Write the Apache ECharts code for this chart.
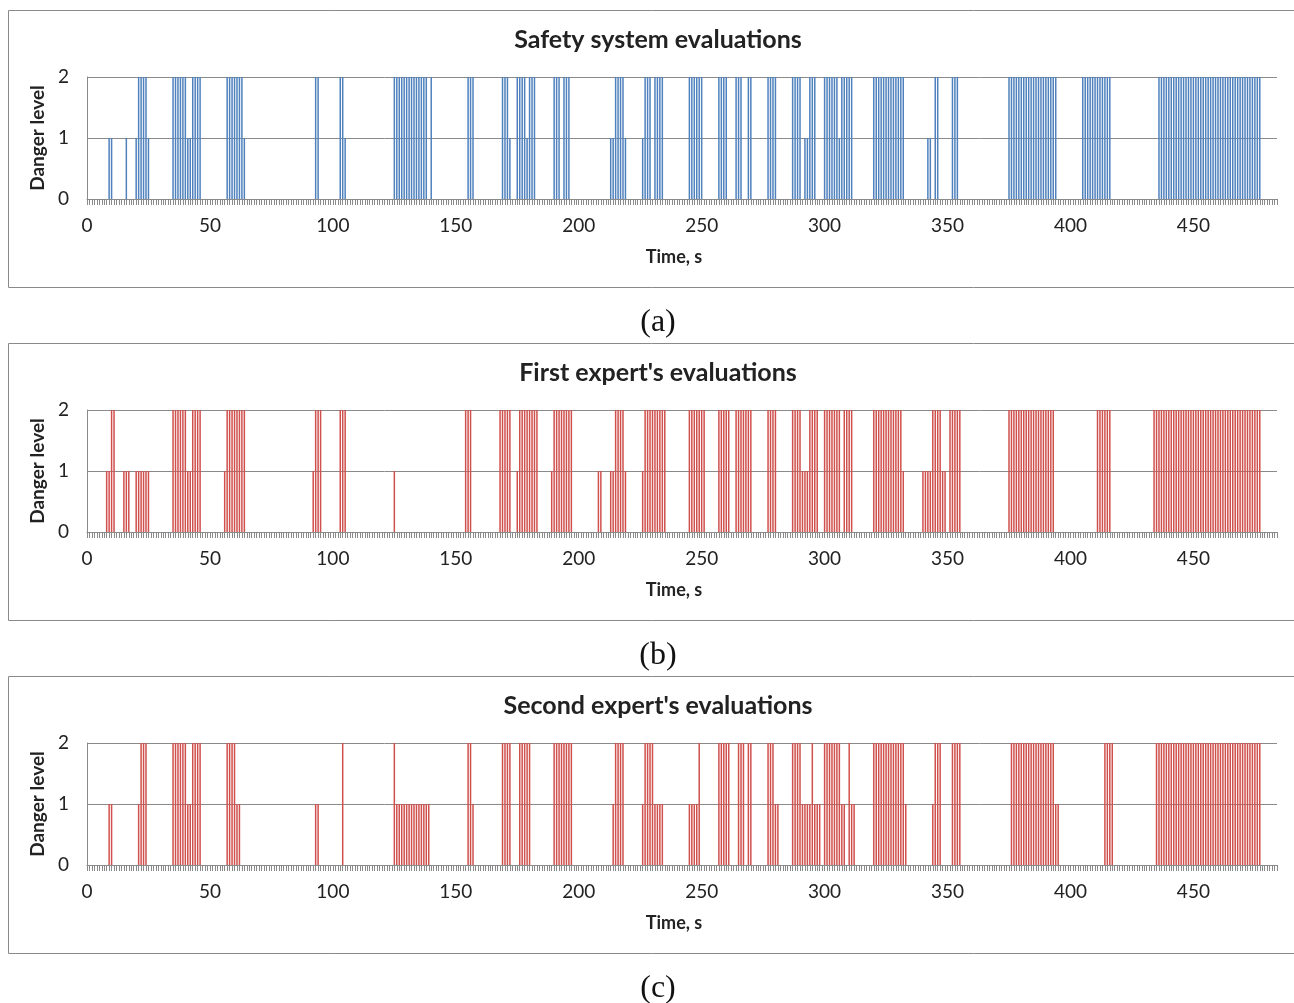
<!DOCTYPE html>
<html>
<head>
<meta charset="utf-8">
<script src="https://cdn.jsdelivr.net/npm/echarts@6/dist/echarts.min.js"></script>
<style>
html,body{margin:0;padding:0;background:#fff;}
#chart{width:1294px;height:1003px;}
</style>
</head>
<body>
<div id="chart"></div>
<script>
// Time axis: seconds 0..484
const timeMax = 484;
const xTickLabels = [0, 50, 100, 150, 200, 250, 300, 350, 400, 450];
const yTickLabels = [0, 1, 2];

const panelTitles = ["Safety system evaluations", "First expert's evaluations", "Second expert's evaluations"];
const panelCaptions = ["(a)", "(b)", "(c)"];

// Runs of consecutive seconds with the same danger level: [startSecond, endSecond, level]
const safetyRuns = [
  [9,10,1],[16,16,1],[20,20,1],[21,24,2],[25,25,1],[35,40,2],[41,42,1],[43,46,2],[57,63,2],[64,64,1],
  [93,94,2],[103,104,2],[105,105,1],
  [125,138,2],[140,140,2],[155,157,2],[169,171,2],[172,172,1],[175,178,2],[179,179,1],[180,182,2],
  [190,192,2],[194,196,2],[213,214,1],[215,218,2],[219,219,1],[226,226,1],[227,229,2],[231,234,2],
  [245,250,2],[257,260,2],[264,266,2],[269,270,2],[277,280,2],[287,290,2],[292,293,1],[294,296,2],
  [300,305,2],[306,306,1],[307,311,2],[320,332,2],[342,343,1],[345,346,2],[352,354,2],
  [375,394,2],[405,416,2],[436,477,2]
];
const expert1Runs = [
  [8,9,1],[10,11,2],[15,17,1],[20,25,1],[35,40,2],[41,42,1],[43,46,2],[56,56,1],[57,64,2],
  [92,92,1],[93,95,2],[103,105,2],
  [125,125,1],[154,156,2],[168,172,2],[175,175,1],[176,183,2],[189,189,1],[190,197,2],[208,209,1],
  [213,214,1],[215,218,2],[219,219,1],[226,226,1],[227,235,2],
  [245,251,2],[257,261,2],[264,270,2],[277,280,2],[287,290,2],[291,293,1],[294,297,2],[300,306,2],
  [308,311,2],[320,331,2],[332,332,1],[340,343,1],[344,347,2],[348,349,1],[351,355,2],
  [375,393,2],[411,416,2],[434,477,2]
];
const expert2Runs = [
  [9,10,1],[21,21,1],[22,24,2],[35,40,2],[41,42,1],[43,46,2],[57,60,2],[61,62,1],[93,94,1],[104,104,2],
  [125,125,2],[126,139,1],[155,156,2],[157,157,1],[169,172,2],[176,180,2],[190,197,2],[214,214,1],
  [215,218,2],[226,226,1],[227,230,2],[231,234,1],
  [245,248,1],[249,249,2],[257,261,2],[265,267,2],[269,270,2],[277,279,2],[280,281,1],[287,290,2],
  [291,294,1],[295,295,2],[296,298,1],[300,306,2],[307,308,1],[310,310,2],[311,312,1],[320,332,2],
  [333,333,1],[344,344,1],[345,347,2],[352,355,2],
  [376,393,2],[394,395,1],[414,417,2],[435,477,2]
];

const seriesColors = ['#4F81BD', '#D0504D', '#D0504D'];

const categories = [];
for (let t = 0; t <= timeMax; t++) categories.push(String(t));

function expand(runs) {
  const v = new Array(categories.length).fill(0);
  runs.forEach(function (r) { for (let t = r[0]; t <= r[1]; t++) v[t] = r[2]; });
  return v;
}
const panelData = [expand(safetyRuns), expand(expert1Runs), expand(expert2Runs)];

const offsets = [0, 333, 666];
const gray = '#8a8a8a';
const font = 'Lato, "Open Sans", sans-serif';

const grids = [], xAxes = [], yAxes = [], series = [], titles = [], graphics = [];
offsets.forEach(function (off, i) {
  grids.push({ left: 87, right: 17, top: 77 + off, height: 122 });
  xAxes.push({
    type: 'category', gridIndex: i, data: categories, boundaryGap: false,
    axisLine: { show: true, lineStyle: { color: gray, width: 1 } },
    axisTick: { show: true, interval: 0, length: 6, lineStyle: { color: gray, width: 1 } },
    axisLabel: {
      interval: function (idx) { return xTickLabels.indexOf(idx) >= 0; },
      margin: 17, fontSize: 19, color: '#222', fontFamily: font
    },
    name: 'Time, s', nameLocation: 'middle', nameGap: 49,
    nameTextStyle: { fontSize: 18, fontWeight: 'bold', color: '#222', fontFamily: font, padding: [0, 16, 0, 0] }
  });
  yAxes.push({
    type: 'value', gridIndex: i, min: 0, max: 2, interval: 1,
    axisLine: { show: true, lineStyle: { color: gray, width: 1 } },
    axisTick: { show: false },
    splitLine: { show: true, lineStyle: { color: gray, width: 1 } },
    axisLabel: {
      margin: 18, fontSize: 19, color: '#222', fontFamily: font,
      formatter: function (v) { return yTickLabels.indexOf(v) >= 0 ? String(v) : ''; }
    },
    name: 'Danger level', nameLocation: 'middle', nameGap: 40, nameRotate: 90,
    nameTextStyle: { fontSize: 19, fontWeight: 'bold', color: '#222', fontFamily: font }
  });
  series.push({
    type: 'bar', xAxisIndex: i, yAxisIndex: i, data: panelData[i],
    barWidth: 1.5, itemStyle: { color: seriesColors[i] }, silent: true, animation: false
  });
  titles.push({
    text: panelTitles[i], left: 653, textAlign: 'center', top: 22 + off,
    textStyle: { fontSize: 25, fontWeight: 'bold', color: '#222', fontFamily: font }
  });
  graphics.push({
    type: 'rect', shape: { x: 8.5, y: 10.5 + off, width: 1300, height: 277 },
    style: { fill: 'none', stroke: gray, lineWidth: 1 }, z: -1
  });
  graphics.push({
    type: 'text', x: 658, y: 323 + off,
    style: { text: panelCaptions[i], font: '32px "Liberation Serif", "DejaVu Serif", serif', fill: '#111', textAlign: 'center', textVerticalAlign: 'middle' }
  });
});

const chart = echarts.init(document.getElementById('chart'), null, { renderer: 'canvas' });
chart.setOption({
  backgroundColor: '#fff',
  animation: false,
  title: titles,
  grid: grids,
  xAxis: xAxes,
  yAxis: yAxes,
  series: series,
  graphic: graphics
});
</script>
</body>
</html>
